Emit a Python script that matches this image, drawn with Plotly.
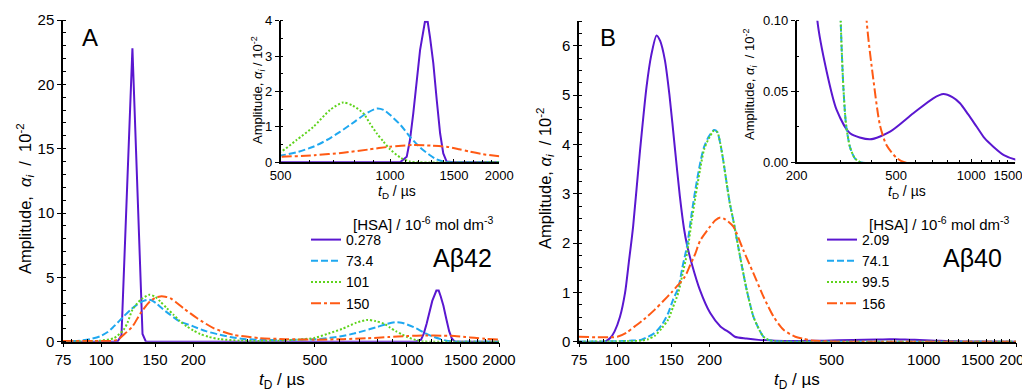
import math
import plotly.graph_objects as go

# The page body adds an 8 px margin, so the figure is drawn 8 px in from the window edge.
OX, OY = 8, 8
W, H = 1030 - OX, 391 - OY

# ---------------- Data (amplitudes in units of 10^-2, t_D in microseconds) ----------------
labels_A = ["0.278", "73.4", "101", "150"]
labels_B = ["2.09", "74.1", "99.5", "156"]

# Panel A (Abeta42)
A1_t = [75, 100, 113, 116.5, 126.5, 136.5, 140, 200, 500, 1000, 1066, 1112, 1135, 1159, 1184, 1210,
        1248, 1270, 1289, 1316, 1345, 1374, 1402, 1432, 1500, 2000]
A1_a = [0, 0, 0, 0.5, 22.8, 0.6, 0, 0, 0, 0, 0, 0.16, 0.63, 1.38, 2.32, 3.17,
        3.97, 3.97, 3.53, 2.8, 1.76, 0.82, 0.25, 0.02, 0, 0]

A2_t = [75, 85, 92, 99, 105, 110, 118.5, 125, 131, 137, 142, 146, 151, 159, 168, 180, 200, 220, 244,
        270, 298, 330, 380, 440, 500, 560, 615, 670, 728, 800, 860, 919, 960, 1000, 1070, 1135, 1210,
        1289, 1345, 1402, 1450, 2000]
A2_a = [0.02, 0.08, 0.2, 0.41, 0.75, 1.19, 1.97, 2.5, 2.88, 3.15, 3.26, 3.22, 3.0, 2.54, 2.1, 1.6, 1.19,
        0.82, 0.54, 0.32, 0.2, 0.15, 0.13, 0.15, 0.19, 0.3, 0.44, 0.63, 0.86, 1.15, 1.38, 1.52, 1.48,
        1.34, 1.05, 0.72, 0.42, 0.2, 0.08, 0.02, 0, 0]

A3_t = [75, 90, 99, 110, 118.5, 122, 126.6, 134.6, 143.7, 150, 155.9, 164, 172.3, 181, 190.6, 200,
        210.6, 225, 244, 284, 330, 400, 450, 500, 553, 615, 684, 743, 790, 845, 880, 919, 960, 1000,
        1070, 1135, 1200, 2000]
A3_a = [0, 0.02, 0.08, 0.28, 0.93, 1.5, 2.49, 3.26, 3.65, 3.5, 3.13, 2.6, 2.1, 1.6, 1.19, 0.88,
        0.6, 0.37, 0.2, 0.08, 0.05, 0.1, 0.18, 0.3, 0.63, 1.0, 1.48, 1.69, 1.6, 1.38, 1.1, 0.82, 0.58,
        0.37, 0.13, 0.02, 0, 0]

A4_t = [75, 100, 110, 114, 118.5, 126.6, 134.6, 144.4, 150, 155.9, 162, 168, 176, 185.8, 205.5, 232.9,
        270, 330, 400, 500, 620, 743, 870, 1000, 1160, 1300, 1432, 1550, 1660, 1800, 2000]
A4_a = [0.05, 0.05, 0.08, 0.2, 0.54, 1.19, 2.23, 3.13, 3.4, 3.52, 3.5, 3.39, 3.05, 2.6, 1.84, 1.06,
        0.54, 0.28, 0.2, 0.16, 0.2, 0.27, 0.36, 0.44, 0.49, 0.47, 0.44, 0.37, 0.30, 0.23, 0.17]

# Panel B (Abeta40)
B1_t = [75, 91, 95, 98, 102, 106, 109, 112.6, 118.4, 124.6, 129, 134.3, 138, 143, 148, 154.3, 160, 165,
        169, 175, 186, 201, 217, 233, 242, 263.7, 289, 327, 393, 473, 586, 704, 773, 840, 901, 970,
        1051, 1130, 1225, 1350, 1500, 2000]
B1_a = [0, 0, 0.08, 0.21, 0.5, 0.99, 1.6, 2.33, 3.82, 5.17, 5.8, 6.21, 6.1, 5.71, 5.0, 3.9, 2.95, 2.3,
        1.95, 1.58, 1.05, 0.58, 0.31, 0.18, 0.1, 0.064, 0.037, 0.0205, 0.0162, 0.0216, 0.0346, 0.0452,
        0.0482, 0.046, 0.0417, 0.034, 0.0251, 0.017, 0.011, 0.005, 0.002, 0]

B2_t = [75, 100, 110, 120, 126, 132.6, 140, 146.6, 152, 158.3, 163, 169, 174.9, 180, 186.4, 192, 198.9,
        206.8, 212, 216.8, 222, 227.6, 233, 239.3, 251.5, 264.4, 278, 292.3, 300, 307.5, 315, 327, 342,
        360, 2000]
B2_a = [0, 0.01, 0.02, 0.04, 0.1, 0.18, 0.35, 0.58, 0.85, 1.1, 1.5, 1.95, 2.6, 3.1, 3.62, 3.95, 4.16,
        4.29, 4.25, 4.02, 3.65, 3.2, 2.8, 2.45, 1.73, 1.05, 0.51, 0.21, 0.1, 0.053, 0.027, 0.0106, 0.0028,
        0, 0]

B3_t = [75, 100, 110, 120, 126, 132.6, 140, 146.6, 152, 158.3, 163, 169, 174.9, 180, 186.4, 192, 198.9,
        206.8, 212, 216.8, 222, 227.6, 233, 239.3, 251.5, 264.4, 278, 292.3, 300, 307.5, 315, 327, 342,
        360, 2000]
B3_a = [0, 0.005, 0.01, 0.02, 0.05, 0.12, 0.28, 0.45, 0.7, 1.0, 1.35, 1.8, 2.45, 2.95, 3.5, 3.9, 4.12,
        4.28, 4.25, 4.02, 3.65, 3.2, 2.8, 2.45, 1.73, 1.05, 0.51, 0.21, 0.1, 0.053, 0.027, 0.0106, 0.0028,
        0, 0]

B4_t = [75, 85, 95, 100, 107, 114, 122, 132.6, 141, 150.4, 158, 166.3, 172.8, 179.6, 186.4, 198.9,
        208.9, 216.8, 225, 239.3, 257.6, 278, 299.6, 323.4, 348.8, 381, 405, 431, 458, 503, 540, 2000]
B4_a = [0.1, 0.09, 0.09, 0.1, 0.18, 0.31, 0.45, 0.65, 0.82, 1.0, 1.15, 1.32, 1.55, 1.78, 2.05, 2.3,
        2.46, 2.52, 2.48, 2.33, 1.86, 1.39, 0.92, 0.51, 0.24, 0.1, 0.059, 0.026, 0.012, 0.003, 0, 0]

main_xticks = [75, 100, 150, 200, 500, 1000, 1500, 2000]
main_xminor = [80, 90, 300, 400, 600, 700, 800, 900, 1100, 1200, 1300, 1400, 1600, 1700, 1800, 1900]
insetA_xticks = [500, 1000, 1500, 2000]
insetA_xminor = [600, 700, 800, 900, 1100, 1200, 1300, 1400, 1600, 1700, 1800, 1900]
insetB_xticks = [200, 500, 1000, 1500]
insetB_xminor = [300, 400, 600, 700, 800, 900, 1100, 1200, 1300, 1400]

# ---------------- Styles ----------------
COLORS = ["#5A17D0", "#1FA8F0", "#5ED31C", "#FF5A14"]
DASHES = ["solid", "7px,3px", "2px,2px", "10px,3px,3px,3px"]
FONT = "Liberation Sans"
NB = "\u00a0"

def px(x):
    return (x - OX) / W

def py(y):
    return 1 - (y - OY) / H

fig = go.Figure()

series_A = [(A1_t, A1_a), (A2_t, A2_a), (A3_t, A3_a), (A4_t, A4_a)]
series_B = [(B1_t, B1_a), (B2_t, B2_a), (B3_t, B3_a), (B4_t, B4_a)]

def line(i, shape):
    d = dict(color=COLORS[i], width=2, dash=DASHES[i], shape=shape)
    if shape == "spline":
        d["smoothing"] = 0.7
    return d

for i, (t, a) in enumerate(series_A):
    shape = "linear" if i == 0 else "spline"
    fig.add_trace(go.Scatter(x=t, y=a, mode="lines", name=labels_A[i], xaxis="x", yaxis="y",
                             line=line(i, shape), legend="legend"))
    fig.add_trace(go.Scatter(x=t, y=a, mode="lines", showlegend=False, xaxis="x2", yaxis="y2",
                             line=line(i, shape)))
for i, (t, a) in enumerate(series_B):
    fig.add_trace(go.Scatter(x=t, y=a, mode="lines", name=labels_B[i], xaxis="x3", yaxis="y3",
                             line=line(i, "spline"), legend="legend2"))
    fig.add_trace(go.Scatter(x=t, y=a, mode="lines", showlegend=False, xaxis="x4", yaxis="y4",
                             line=line(i, "spline")))

def xax(domain, rng, tickvals, minor, size, anchor, ticks="outside", ticktext=None):
    return dict(type="log", domain=domain, range=[math.log10(rng[0]), math.log10(rng[1])], anchor=anchor,
                tickvals=tickvals, ticktext=ticktext or [str(v) for v in tickvals], tickangle=0,
                automargin=False, ticklabeloverflow="allow",
                ticks=ticks, ticklen=4, tickwidth=1.3, tickcolor="black",
                minor=dict(tickvals=minor, ticks="inside", ticklen=3, tickwidth=1, tickcolor="black"),
                showline=True, linecolor="black", linewidth=1.5, showgrid=False, zeroline=False,
                tickfont=dict(size=size, color="black", family=FONT))

def yax(domain, rng, dtick, mdtick, size, anchor, fmt=None):
    d = dict(domain=domain, range=rng, dtick=dtick, tick0=0, anchor=anchor, automargin=False,
             ticks="outside", ticklen=4, tickwidth=1.3, tickcolor="black",
             minor=dict(dtick=mdtick, ticks="inside", ticklen=3, tickwidth=1, tickcolor="black"),
             showline=True, linecolor="black", linewidth=1.5, showgrid=False, zeroline=False,
             tickfont=dict(size=size, color="black", family=FONT))
    if fmt:
        d["tickformat"] = fmt
    return d

main_ydom = [py(341.7), py(20)]
inset_ydom = [py(162.3), py(20.7)]

insetB_text = [str(v) for v in insetB_xticks]
insetB_text[-1] = insetB_text[-1] + NB * 4   # keep the last label inside the window

fig.update_layout(
    width=W, height=H,
    margin=dict(l=0, r=0, t=0, b=0, autoexpand=False),
    paper_bgcolor="white", plot_bgcolor="rgba(0,0,0,0)",
    font=dict(family=FONT, color="black"),
    xaxis=xax([px(63), px(499)], (75, 2000), main_xticks, main_xminor, 15, "y"),
    yaxis=yax(main_ydom, [0, 25], 5, 1, 15, "x"),
    xaxis2=xax([px(280.7), px(499.3)], (500, 2000), insetA_xticks, insetA_xminor, 13, "y2", ticks="inside"),
    yaxis2=yax(inset_ydom, [0, 4], 1, 0.5, 13, "x2"),
    xaxis3=xax([px(579), px(1016)], (75, 2000), main_xticks, main_xminor, 15, "y3"),
    yaxis3=yax([main_ydom[0], py(342 - 6.5 * 49.37)], [0, 6.5], 1, 0.25, 15, "x3"),
    xaxis4=xax([px(796.7), px(1015.3)], (200, 1500), insetB_xticks, insetB_xminor, 13, "y4", ticks="inside",
               ticktext=insetB_text),
    yaxis4=yax(inset_ydom, [0, 0.1], 0.05, 0.025, 13, "x4", fmt=".2f"),
    legend=dict(x=px(306), y=py(224), xanchor="left", yanchor="top", bgcolor="rgba(0,0,0,0)",
                font=dict(size=14, color="black", family=FONT), itemwidth=30, tracegroupgap=0),
    legend2=dict(x=px(822), y=py(224), xanchor="left", yanchor="top", bgcolor="rgba(0,0,0,0)",
                 font=dict(size=14, color="black", family=FONT), itemwidth=30, tracegroupgap=0),
    showlegend=True,
)

def note(text, x, y, size, angle=0, xanchor="center"):
    fig.add_annotation(text=text, x=px(x), y=py(y), xref="paper", yref="paper", showarrow=False,
                       xanchor=xanchor, yanchor="middle", textangle=angle,
                       font=dict(size=size, color="black", family=FONT))

note("A", 90, 37, 24)
note("B", 608, 37, 24)
note("Aβ42", 462, 258, 25)
note("Aβ40", 972, 258, 25)
for xx in (351, 867):
    note("[HSA] / 10<sup>-6</sup> mol dm<sup>-3</sup>", xx, 223, 15, xanchor="left")

# axis titles
ytA = "Amplitude," + NB * 2 + "<i>α<sub>i</sub></i>" + NB * 2 + "/" + NB * 2 + "10<sup>-2</sup>"
ytB = "Amplitude, <i>α<sub>i</sub></i>" + NB * 2 + "/ 10<sup>-2</sup>"
xt = "<i>t</i><sub>D</sub> / µs"
note(ytA, 25, 199, 16.5, angle=-90)
note(ytB, 545, 178, 16.5, angle=-90)
note("Amplitude, <i>α<sub>i</sub></i> / 10<sup>-2</sup>", 258, 90, 13, angle=-90)
note("Amplitude, <i>α<sub>i</sub></i>" + NB * 2 + "/ 10<sup>-2</sup>", 750, 84, 13, angle=-90)
note(xt, 282, 381, 17)
note(xt, 797, 381, 17)
note(xt, 397, 192, 14)
note(xt, 907, 192, 14)

fig.write_html("out.html")
